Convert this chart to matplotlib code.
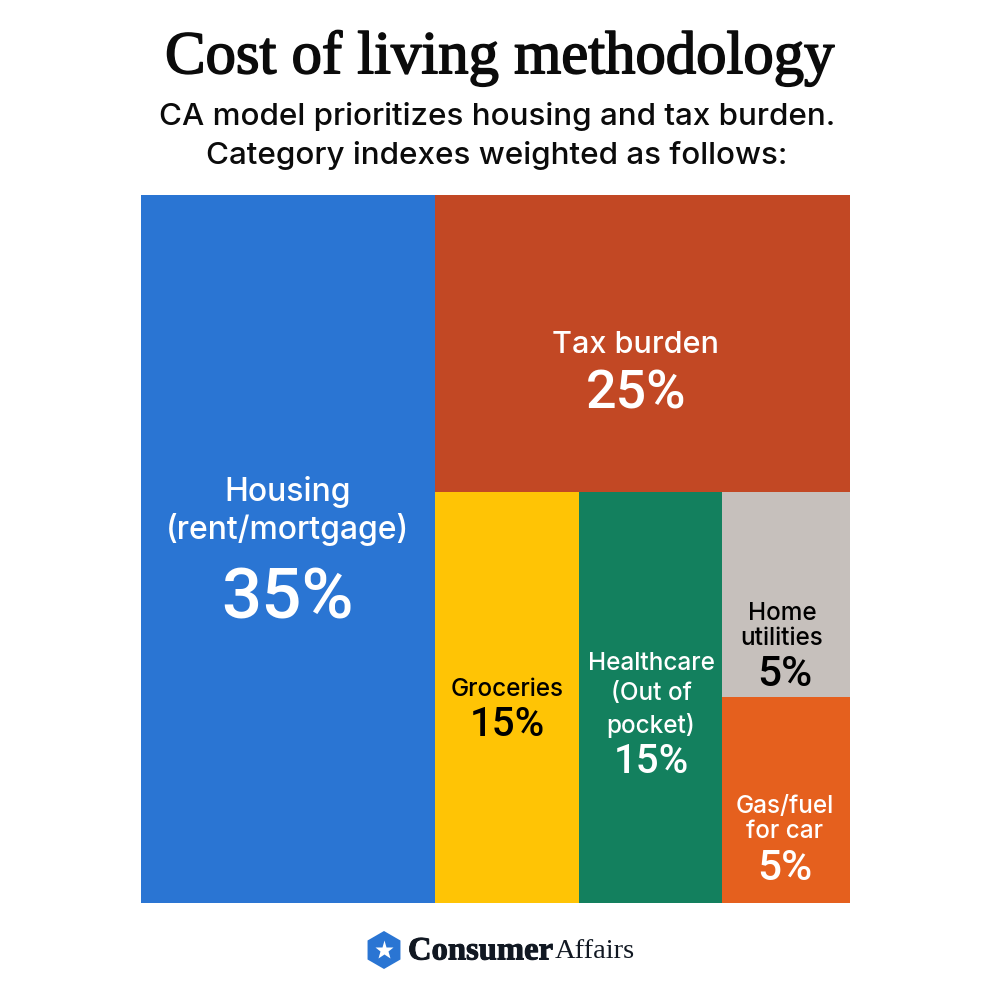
import matplotlib
matplotlib.use("Agg")
from matplotlib import pyplot as plt
from matplotlib import patheffects as pe
from matplotlib.patches import Rectangle, RegularPolygon

# category weights, as labelled
categories = ["Housing\n(rent/mortgage)", "Tax burden", "Groceries",
              "Healthcare\n(Out of\npocket)", "Home\nutilities", "Gas/fuel\nfor car"]
weights = [35, 25, 15, 15, 5, 5]
# the tiles are not drawn strictly to weight, these are the areas read off the picture
drawn_share = [41.47, 24.55, 11.79, 11.71, 5.23, 5.25]
colors = ["#2A75D3", "#C24824", "#FFC405", "#13805E", "#C6C0BC", "#E5601E"]
text_colors = ["white", "white", "black", "white", "black", "white"]

title = "Cost of living methodology"
subtitle = "CA model prioritizes housing and tax burden.\nCategory indexes weighted as follows:"


def layout(shares):
    """slice and dice: left column, top row, then two columns and a split stack"""
    total = sum(shares)
    x0 = shares[0] / total * 100
    right = total - shares[0]
    y0 = shares[1] / right * 100
    lower = right - shares[1]
    lower_h = 100 - y0
    w_gro = shares[2] / lower * (100 - x0)
    w_hea = shares[3] / lower * (100 - x0)
    x2 = x0 + w_gro
    x3 = x2 + w_hea
    stack = shares[4] + shares[5]
    h_hom = shares[4] / stack * lower_h
    return [(0, 0, x0, 100),
            (x0, 0, 100 - x0, y0),
            (x0, y0, w_gro, lower_h),
            (x2, y0, w_hea, lower_h),
            (x3, y0, 100 - x3, h_hom),
            (x3, y0 + h_hom, 100 - x3, lower_h - h_hom)]


fig = plt.figure(figsize=(9.98, 9.98), dpi=100, facecolor="white")

# treemap axes, 0-100 on both sides
ax = fig.add_axes([141 / 998, 1 - 903 / 998, 709 / 998, 708 / 998])
ax.set_xlim(0, 100)
ax.set_ylim(100, 0)
ax.axis("off")
for rect, c in zip(layout(drawn_share), colors):
    ax.add_patch(Rectangle(rect[:2], rect[2], rect[3], facecolor=c, edgecolor="none"))

# overlay in pixel coords for all the text
over = fig.add_axes([0, 0, 1, 1])
over.set_xlim(0, 998)
over.set_ylim(998, 0)
over.axis("off")

SANS = "Inter"
t = over.text(499, 58, title, family="Liberation Serif", fontsize=43.7,
              ha="center", va="center", color="#0b0b0b")
t.set_path_effects([pe.withStroke(linewidth=1.2, foreground="#0b0b0b")])
over.text(497, 136, subtitle, family=SANS, weight="medium", fontsize=22.6, ha="center",
          va="center", color="#0b0b0b", linespacing=1.43)

# label centre, percent centre, label size, percent size, line spacing
label_pos = [(288, 511), (636, 345), (507, 689), (651, 695), (782, 626), (785, 819)]
pct_pos = [(288, 599), (636, 394), (507, 725), (651, 762), (785, 675), (785, 868)]
label_size = [23, 22, 17.5, 17.5, 17.5, 17.5]
pct_size = [51, 38.7, 29, 29, 30.5, 30.5]
spacing = [1.2, 1.2, 1.2, 1.42, 1.16, 1.16]

for i in range(len(categories)):
    over.text(*label_pos[i], categories[i], family=SANS, weight="medium", fontsize=label_size[i],
              ha="center", va="center", color=text_colors[i], linespacing=spacing[i])
    over.text(*pct_pos[i], f"{weights[i]}%", family="Roboto", weight="medium", fontsize=pct_size[i],
              ha="center", va="center", color=text_colors[i])

# logo
over.add_patch(RegularPolygon((384, 950), 6, radius=19, facecolor="#2A75D3", edgecolor="none"))
over.plot([384], [949.5], marker="*", ms=14, color="white", mec="none", ls="none")
c = over.text(408, 951, "Consumer", family="Liberation Serif", weight="bold", fontsize=23.5,
              ha="left", va="center", color="#111822")
c.set_path_effects([pe.withStroke(linewidth=0.7, foreground="#111822")])
over.text(635, 951, "Affairs", family="Liberation Serif", fontsize=20.5,
          ha="right", va="center", color="#111822")

fig.savefig("out.png", dpi=100)
